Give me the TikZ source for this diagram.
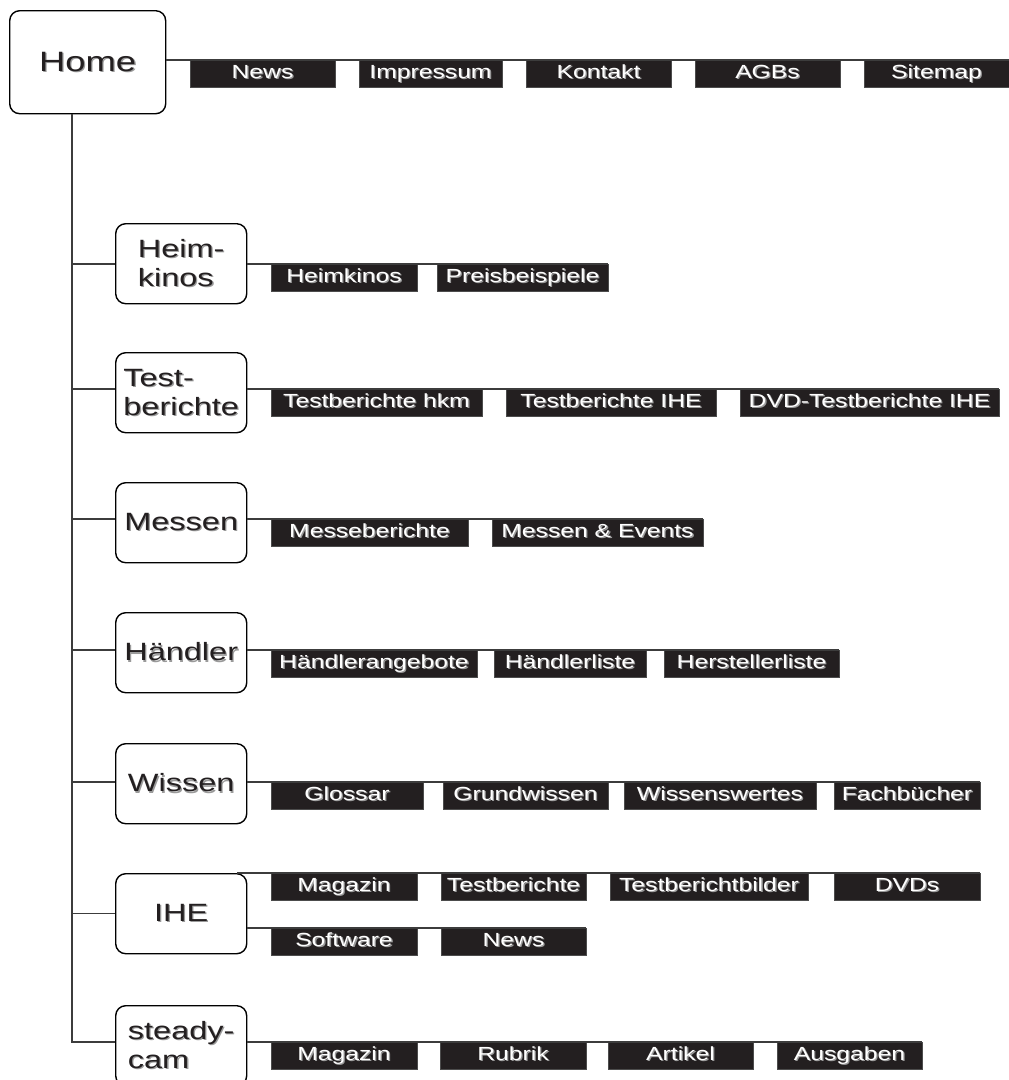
\documentclass[tikz,border=0pt]{standalone}
\usepackage{fontspec}
\setmainfont{Liberation Sans}[FakeStretch=1.3]
\usepackage{tikz}
\usetikzlibrary{positioning}
\definecolor{bardark}{HTML}{231F20}
\definecolor{inkdark}{HTML}{231F20}
\definecolor{shadegray}{HTML}{9A9A9A}
\definecolor{linegray}{HTML}{3C3C3C}
\newdimen\hdim
\newdimen\wdim
\newdimen\odim
\hdim=27.5pt
\wdim=145pt
\odim=24pt
\newcommand{\shd}[1]{\makebox[0pt][l]{\kern1.3pt\raisebox{-1.3pt}{\color{shadegray}#1}}#1}
\tikzstyle{menu}=[
  anchor=north west,
  draw=black,
  font={\fontsize{25}{29}\selectfont},
  inner sep=0pt,
  line width=1.4pt,
  minimum height=80pt,
  minimum width=131pt,
  rectangle,
  rounded corners=10pt,
  align=left,
  text=inkdark,
]
\tikzstyle{entry}=[
  draw=black!70,
  fill=bardark,
  font={\fontsize{19}{21}\selectfont},
  inner sep=0pt,
  line width=0.5pt,
  minimum height=\hdim,
  minimum width=\wdim,
  outer sep=0pt,
  rectangle,
  text depth=6pt,
  text height=14.5pt,
  text=white,
]
\tikzstyle{link}=[
  draw=linegray,
  line width=1.3pt,
]
\tikzset{
  node distance=\odim,
}

\begin{document}
\begin{tikzpicture}[x=1pt,y=-1pt]
  \useasboundingbox (0,0) rectangle (1009,1080);
  % main sections
  \node (home) [menu, minimum width=156pt, minimum height=103pt, font={\fontsize{28}{30}\selectfont}] at (9,10) {\shd{Home}};
  \node (heim) [menu] at (115,223) {\shd{Heim-}\\\shd{kinos}};
  \node (test) [menu] at (115,352) {\shd{Test-}\\\shd{berichte}};
  \node (messen) [menu] at (115,482) {\shd{Messen}};
  \node (haendler) [menu] at (115,612) {\shd{Händler}};
  \node (wissen) [menu] at (115,743) {\shd{Wissen}};
  \node (ihe) [menu] at (115,873) {\shd{IHE}};
  \node (steady) [menu] at (115,1005) {\shd{steady-}\\\shd{cam}};
  % pages
  \node (news) [entry, anchor=north west] at (190,60) {\shd{News}};
  \node (impressum) [entry, right=of news, minimum width=143pt] {\shd{Impressum}};
  \node (kontakt) [entry, right=of impressum] {\shd{Kontakt}};
  \node (agbs) [entry, right=of kontakt] {\shd{AGBs}};
  \node (sitemap) [entry, right=of agbs] {\shd{Sitemap}};
  \node (heimkinos) [entry, anchor=north west, minimum width=146pt] at (271,264) {\shd{Heimkinos}};
  \node (preise) [entry, right=20pt of heimkinos, minimum width=171pt] {\shd{Preisbeispiele}};
  \node (tbhkm) [entry, anchor=north west, minimum width=211pt] at (271,389) {\shd{Testberichte hkm}};
  \node (tbihe) [entry, right=of tbhkm, minimum width=210pt] {\shd{Testberichte IHE}};
  \node (tbdvd) [entry, right=of tbihe, minimum width=259pt] {\shd{DVD-Testberichte IHE}};
  \node (messeber) [entry, anchor=north west, minimum width=197pt] at (271,519) {\shd{Messeberichte}};
  \node (events) [entry, right=of messeber, minimum width=211pt] {\shd{Messen \& Events}};
  \node (hangebote) [entry, anchor=north west, minimum width=206pt] at (271,650) {\shd{Händlerangebote}};
  \node (hliste) [entry, right=17pt of hangebote, minimum width=152pt] {\shd{Händlerliste}};
  \node (hersteller) [entry, right=18pt of hliste, minimum width=175pt] {\shd{Herstellerliste}};
  \node (glossar) [entry, anchor=north west, minimum width=152pt] at (271,782) {\shd{Glossar}};
  \node (grundwissen) [entry, right=20pt of glossar, minimum width=165pt] {\shd{Grundwissen}};
  \node (wissenswertes) [entry, right=16pt of grundwissen, minimum width=192pt] {\shd{Wissenswertes}};
  \node (fachbuecher) [entry, right=18pt of wissenswertes, minimum width=146pt] {\shd{Fachbücher}};
  \node (ihemag) [entry, anchor=north west, minimum width=146pt] at (271,873) {\shd{Magazin}};
  \node (ihetest) [entry, right=of ihemag] {\shd{Testberichte}};
  \node (ihebilder) [entry, right=of ihetest, minimum width=198pt] {\shd{Testberichtbilder}};
  \node (ihedvds) [entry, right=26pt of ihebilder, minimum width=146pt] {\shd{DVDs}};
  \node (ihesoft) [entry, anchor=north west, minimum width=146pt] at (271,928) {\shd{Software}};
  \node (ihenews) [entry, right=of ihesoft] {\shd{News}};
  \node (steadymag) [entry, anchor=north west, minimum width=146pt] at (271,1042) {\shd{Magazin}};
  \node (rubrik) [entry, right=23pt of steadymag, minimum width=146pt] {\shd{Rubrik}};
  \node (artikel) [entry, right=22pt of rubrik] {\shd{Artikel}};
  \node (ausgaben) [entry, right=of artikel] {\shd{Ausgaben}};
  % tree
  \coordinate (trunk) at ([xshift=63pt]home.south west);
  \draw [link] (trunk) |- (steady.west |- steadymag.north);
  \draw [link] (trunk |- heimkinos.north) -- (heim.west |- heimkinos.north);
  \draw [link] (trunk |- tbhkm.north) -- (test.west |- tbhkm.north);
  \draw [link] (trunk |- messeber.north) -- (messen.west |- messeber.north);
  \draw [link] (trunk |- hangebote.north) -- (haendler.west |- hangebote.north);
  \draw [link] (trunk |- glossar.north) -- (wissen.west |- glossar.north);
  \draw [link] (trunk |- ihe.west) -- (ihe.west);
  % page rows
  \draw [link] (home.east |- news.north) -- (sitemap.north east);
  \draw [link] (heim.east |- heimkinos.north) -- (preise.north east);
  \draw [link] (test.east |- tbhkm.north) -- (tbdvd.north east);
  \draw [link] (messen.east |- messeber.north) -- (events.north east);
  \draw [link] (haendler.east |- hangebote.north) -- (hersteller.north east);
  \draw [link] (wissen.east |- glossar.north) -- (fachbuecher.north east);
  \draw [link] ([xshift=-10pt]ihe.north east) -- (ihedvds.north east);
  \draw [link] (ihe.east |- ihesoft.north) -- (ihenews.north east);
  \draw [link] (steady.east |- steadymag.north) -- (ausgaben.north east);
\end{tikzpicture}
\end{document}
